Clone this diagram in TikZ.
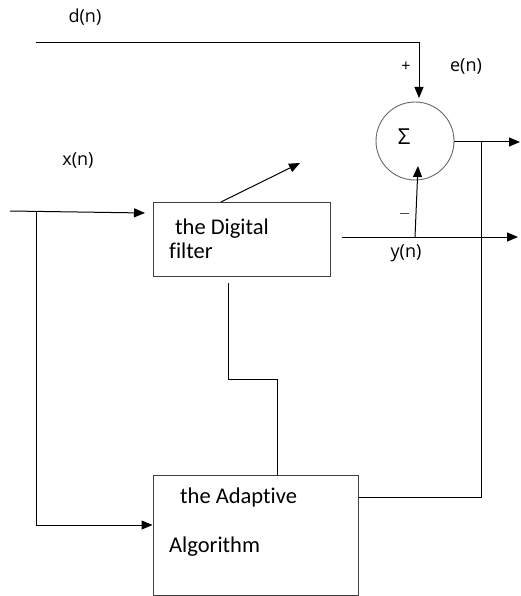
\documentclass[tikz,border=0pt]{standalone}
\usepackage{fontspec}
\setmainfont{Carlito}[Ligatures={NoCommon}]
\newfontfamily\lblfont{Open Sans}
\usetikzlibrary{arrows.meta,calc}
\begin{document}
\begin{tikzpicture}[x=1pt,y=-1pt,
  wire/.style={line width=1pt,black},
  arr/.style={wire,-{Triangle[length=11pt,width=9pt]}},
  blockbox/.style={draw=black!75,line width=1pt,rectangle,inner sep=0pt},
  boxtext/.style={font=\fontsize{22.5}{24}\selectfont,anchor=base west,inner sep=0pt},
  sig/.style={font=\lblfont\fontsize{18}{20}\selectfont,inner sep=0pt}]
\useasboundingbox (0,0) rectangle (520,596);

% blocks
\node[blockbox,minimum width=177pt,minimum height=74pt] (filt) at (241.5,239) {};
\node[blockbox,minimum width=205pt,minimum height=120pt] (adapt) at (255.5,535) {};
\node[draw=black!60,line width=0.9pt,circle,minimum size=78pt,inner sep=0pt] (sum) at (415,141) {};

% block texts
\node[boxtext] (t1) at (175,234) {the Digital};
\node[boxtext] (t2) at (169,258) {filter};
\node[boxtext] (t3) at (180,503) {the Adaptive};
\node[boxtext] (t4) at (169,552) {Algorithm};
\node[sig,font=\lblfont\fontsize{22}{24}\selectfont] (sigma) at (404,137) {Σ};

% signal labels
\node[sig] (dl) at (85,17) {d(n)};
\node[sig] (el) at (466,67) {e(n)};
\node[sig] (xl) at (78,160) {x(n)};
\node[sig] (yl) at (406,253) {y(n)};
\node[sig,font=\lblfont\fontsize{16}{18}\selectfont] (plus) at (406,67) {+};
\node[sig,text=black!70] (minus) at (404,215) {\rule[0.3ex]{9pt}{0.8pt}};

% free ends and corners
\coordinate (dstart) at (36,43);
\coordinate (dcorner) at (419,43);
\coordinate (dtip) at (419,98);
\coordinate (outend) at (520,142);
\coordinate (fbtop) at (481,142);
\coordinate (fbbot) at (481,497);
\coordinate (xstart) at (10,211);
\coordinate (xtip) at (145,213);
\coordinate (xsplit) at (36,212);
\coordinate (xbot) at (36,525);
\coordinate (diag0) at (221,202);
\coordinate (diag1) at (300,163);
\coordinate (ystart) at (342,237);
\coordinate (yend) at (518,237);
\coordinate (ysplit) at (415,237);
\coordinate (ytip) at (418,166);
\coordinate (c1) at (228,283);
\coordinate (c2) at (228,379);
\coordinate (c3) at (277,379);

% connectors
\draw[arr] (dstart) -- (dcorner) -- (dtip);
\draw[arr] (sum.east) ++(0,1) -- (outend);
\draw[wire] (fbtop) -- (fbbot) -- (fbbot -| adapt.east);
\draw[arr] (xstart) -- (xtip);
\draw[arr] (xsplit) -- (xbot) -- (xbot -| adapt.west);
\draw[arr] (diag0) -- (diag1);
\draw[arr] (ystart) -- (yend);
\draw[arr] (ysplit) -- (ytip);
\draw[wire] (c1) -- (c2) -- (c3) -- (c3 |- adapt.north);
\end{tikzpicture}
\end{document}
